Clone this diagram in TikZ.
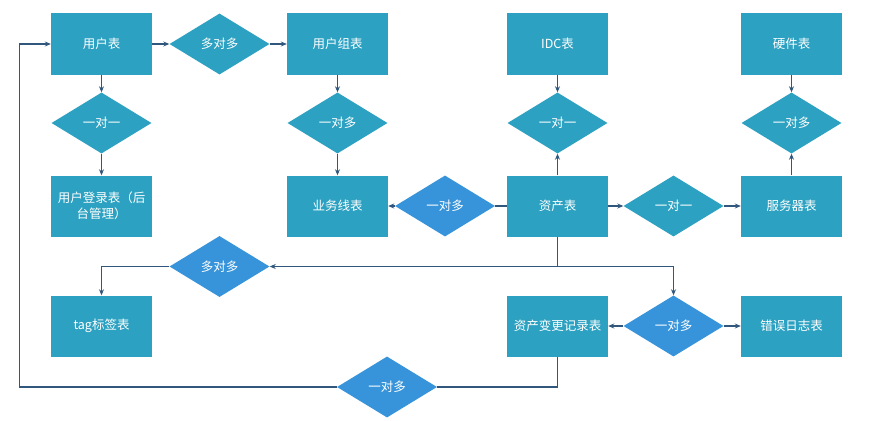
\documentclass[tikz,border=0pt]{standalone}
\usepackage{fontspec}
\setmainfont{Noto Sans CJK SC}
\usetikzlibrary{shapes.geometric,arrows.meta}
\definecolor{boxteal}{RGB}{44,161,193}
\definecolor{dblue}{RGB}{55,148,218}
\definecolor{linec}{RGB}{49,88,124}
\begin{document}
\begin{tikzpicture}[x=1pt,y=-1pt,
  tbl/.style={fill=boxteal, minimum width=101pt, minimum height=61pt, inner sep=0pt,
    text=white, font=\fontsize{12.5}{16}\selectfont, align=center},
  rel/.style={diamond, fill=boxteal, minimum width=100pt, minimum height=61pt, inner sep=0pt,
    text=white, font=\fontsize{12.5}{16}\selectfont},
  relb/.style={rel, fill=dblue},
  con/.style={draw=linec, line width=1.1pt},
  arr/.style={con, -{Stealth[length=6pt,width=5pt]}}]
\useasboundingbox (0,0) rectangle (888,420);
\fill[white] (0,0) rectangle (888,420);
% tables
\node[tbl] (user) at (101.5,44) {用户表};
\node[tbl] (ugroup) at (337.5,44) {用户组表};
\node[tbl] (idc) at (557.5,44) {IDC表};
\node[tbl] (hw) at (791.5,44) {硬件表};
\node[tbl] (login) at (101.5,206) {用户登录表（后\\台管理）};
\node[tbl] (biz) at (337.5,206) {业务线表};
\node[tbl] (asset) at (557.5,206) {资产表};
\node[tbl] (server) at (791.5,206) {服务器表};
\node[tbl] (tag) at (101.5,326) {tag标签表};
\node[tbl] (change) at (557.5,326) {资产变更记录表};
\node[tbl] (err) at (791.5,326) {错误日志表};
% relations
\node[rel] (r1) at (219.5,44) {多对多};
\node[rel] (r2) at (101.5,123) {一对一};
\node[rel] (r3) at (337.5,123) {一对多};
\node[rel] (r4) at (557.5,123) {一对一};
\node[rel] (r5) at (791.5,123) {一对多};
\node[relb] (r6) at (445,206) {一对多};
\node[rel] (r7) at (673.5,206) {一对一};
\node[relb] (r8) at (219.5,266.5) {多对多};
\node[relb] (r9) at (673.5,326) {一对多};
\node[relb] (r10) at (387,387) {一对多};
% connectors
\draw[arr] (user.east) -- (r1.west);
\draw[arr] (r1.east) -- (ugroup.west);
\draw[arr] (user.south) -- (r2.north);
\draw[arr] (r2.south) -- (login.north);
\draw[arr] (ugroup.south) -- (r3.north);
\draw[arr] (r3.south) -- (biz.north);
\draw[arr] (idc.south) -- (r4.north);
\draw[arr] (asset.north) -- (r4.south);
\draw[arr] (hw.south) -- (r5.north);
\draw[arr] (server.north) -- (r5.south);
\draw[con] (asset.west) -- (r6.east);
\draw[arr] (r6.west) -- (biz.east);
\draw[arr] (asset.east) -- (r7.west);
\draw[arr] (r7.east) -- (server.west);
\coordinate (j) at (557.5,266.5);
\draw[con] (asset.south) -- (j);
\draw[arr] (j) -- (r8.east);
\draw[arr] (j) -| (r9.north);
\draw[arr] (r8.west) -| (tag.north);
\draw[arr] (r9.west) -- (change.east);
\draw[arr] (r9.east) -- (err.west);
\coordinate (lc) at (19.5,387);
\draw[con] (change.south) |- (r10.east);
\draw[arr] (r10.west) -- (lc) |- (user.west);
\end{tikzpicture}
\end{document}
